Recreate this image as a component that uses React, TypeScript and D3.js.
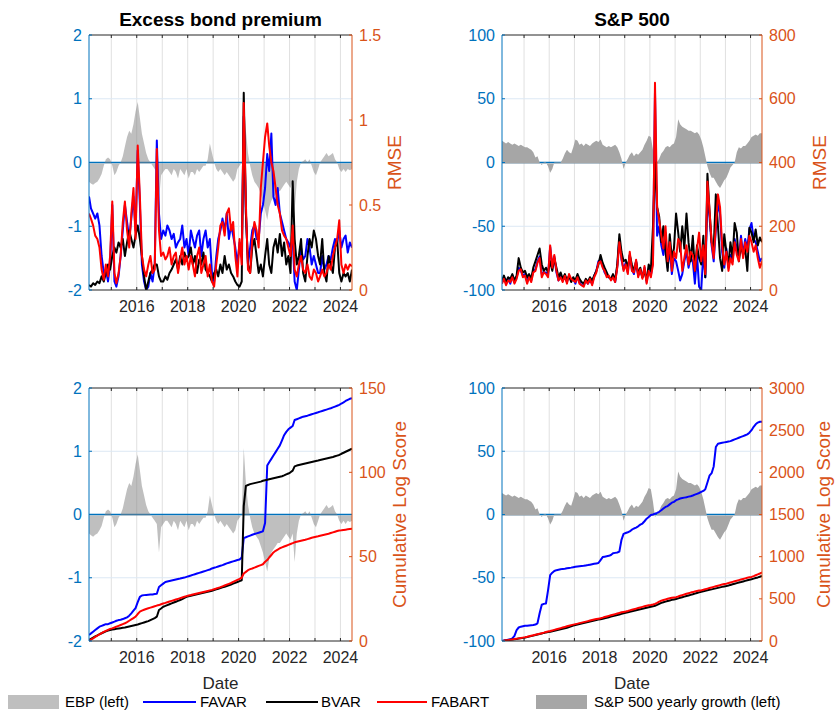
import React from "react";
import * as d3 from "d3";

// Monthly observations, Feb 2014 – Jun 2024 (125 months)
const months: Date[] = d3.range(125).map((i) => new Date(2014, 1 + i, 15));

// Excess bond premium (left axis)
const ebp = [
  -0.3, -0.33, -0.35, -0.32, -0.3, -0.25, -0.18, -0.05, 0.05, 0.08, 0.05,
  -0.05, -0.2, -0.15, -0.05, 0.0, 0.1, 0.25, 0.4, 0.5, 0.45, 0.6, 0.8,
  0.95, 0.7, 0.45, 0.3, 0.15, 0.05, 0.0, -0.05, -0.1, -0.15, -0.6, -0.2,
  -0.15, -0.1, -0.1, -0.15, -0.2, -0.1, -0.15, -0.25, -0.1, -0.15, -0.2, -0.1,
  -0.25, -0.15, -0.15, -0.2, -0.1, -0.15, -0.1, -0.05, -0.05, 0.05, 0.3, 0.15,
  0.0, -0.1, -0.15, -0.1, -0.15, -0.2, -0.15, -0.2, -0.25, -0.3, -0.25, -0.1,
  -0.05, 0.0, 1.05, 0.5, 0.15, -0.05, -0.2, -0.3, -0.35, -0.4, -0.5, -0.6,
  -0.75, -0.9, -0.7, -0.6, -0.55, -0.5, -0.45, -0.45, -0.4, -0.35, -0.3, -0.35,
  -0.4, -0.3, -0.75, -0.3, -0.1, 0.0, 0.02, 0.05, 0.0, 0.05, -0.05, -0.15,
  -0.2, -0.1, 0.0, 0.05, 0.1, 0.15, 0.1, 0.12, 0.15, 0.05, 0.0, -0.1,
  -0.15, -0.1, -0.15, -0.1, -0.12, -0.1,
];

// S&P 500 yearly growth (left axis)
const spGrowth = [
  17, 16, 15, 16, 15, 14, 15, 14, 13, 14, 13,
  12, 12, 11, 10, 8, 4, 5, 0, -2, 0, 0, -3,
  -8, -5, 0, 0, 0, 0, 3, 7, 10, 8, 7, 12,
  18, 17, 14, 15, 13, 15, 14, 13, 15, 16, 17, 16,
  18, 14, 13, 12, 13, 12, 13, 14, 12, 8, 3, -5,
  0, 3, 6, 8, 5, 7, 6, 8, 10, 14, 17, 21,
  20, 10, -2, 0, 3, 7, 9, 12, 13, 12, 14, 15,
  20, 34, 30, 28, 27, 26, 25, 25, 24, 23, 24, 22,
  18, 12, 5, -3, -8, -12, -12, -15, -18, -20, -17, -14,
  -12, -8, -4, -2, 0, 8, 12, 11, 13, 13, 15, 17,
  20, 21, 22, 21, 23, 23,
];

// RMSE – excess bond premium (right axis)
const ebpRmseFavar = [
  0.55, 0.48, 0.45, 0.42, 0.45, 0.38, 0.2, 0.1, 0.12, 0.05, 0.15,
  0.5, 0.05, 0.02, 0.08, 0.2, 0.35, 0.5, 0.4, 0.3, 0.42, 0.55, 0.35,
  0.82, 0.5, 0.15, 0.05, 0.0, 0.02, 0.1, 0.05, 0.15, 0.88, 0.45, 0.3,
  0.35, 0.32, 0.38, 0.35, 0.3, 0.33, 0.25, 0.28, 0.3, 0.38, 0.25, 0.3,
  0.2, 0.35, 0.3, 0.25, 0.32, 0.35, 0.2, 0.3, 0.35, 0.25, 0.3, 0.1,
  0.05, 0.2, 0.3, 0.35, 0.42, 0.35, 0.45, 0.3, 0.38, 0.32, 0.25, 0.15,
  0.28, 0.2, 1.02, 0.45, 0.15, 0.25, 0.35, 0.38, 0.3, 0.3, 0.45, 0.5,
  0.6, 0.8, 0.7, 0.92, 0.55, 0.5, 0.6, 0.45, 0.4, 0.35, 0.3, 0.28,
  0.25, 0.3, 0.05, 0.0, 0.12, 0.25, 0.18, 0.2, 0.3, 0.25, 0.15, 0.2,
  0.15, 0.1, 0.1, 0.2, 0.12, 0.15, 0.2, 0.18, 0.25, 0.3, 0.28, 0.35,
  0.25, 0.3, 0.32, 0.22, 0.28, 0.25,
];
const ebpRmseBvar = [
  0.03, 0.02, 0.04, 0.03, 0.05, 0.04, 0.08, 0.05, 0.1, 0.15, 0.12,
  0.2, 0.25, 0.22, 0.28, 0.25, 0.3, 0.2, 0.28, 0.35, 0.3, 0.25, 0.32,
  0.38, 0.3, 0.2, 0.08, 0.0, 0.05, 0.1, 0.12, 0.15, 0.15, 0.08, 0.05,
  0.05, 0.08, 0.06, 0.1, 0.12, 0.15, 0.18, 0.12, 0.2, 0.15, 0.22, 0.18,
  0.2, 0.25, 0.15, 0.2, 0.1, 0.18, 0.15, 0.22, 0.12, 0.1, 0.08, 0.05,
  0.1, 0.12, 0.08, 0.15, 0.1, 0.2, 0.12, 0.15, 0.1, 0.08, 0.05, 0.03,
  0.02, 0.05, 1.16, 0.45, 0.15, 0.1, 0.25, 0.3, 0.2, 0.1, 0.15, 0.08,
  0.2, 0.3, 0.15, 0.1, 0.25, 0.3, 0.22, 0.33, 0.2, 0.28, 0.15, 0.2,
  0.1, 0.64, 0.3, 0.15, 0.2, 0.3, 0.1, 0.05, 0.2, 0.3, 0.25, 0.35,
  0.3, 0.2, 0.15, 0.3, 0.1, 0.05, 0.2, 0.15, 0.1, 0.25, 0.3, 0.1,
  0.05, 0.1, 0.08, 0.1, 0.05, 0.12,
];
const ebpRmseFabart = [
  0.45, 0.42, 0.38, 0.32, 0.3, 0.25, 0.12, 0.06, 0.15, 0.08, 0.2,
  0.52, 0.1, 0.04, 0.1, 0.2, 0.4, 0.52, 0.35, 0.25, 0.45, 0.6, 0.3,
  0.85, 0.55, 0.2, 0.12, 0.08, 0.15, 0.2, 0.1, 0.12, 0.83, 0.35, 0.2,
  0.22, 0.18, 0.2, 0.25, 0.15, 0.2, 0.22, 0.1, 0.18, 0.25, 0.15, 0.2,
  0.12, 0.2, 0.15, 0.08, 0.2, 0.25, 0.1, 0.15, 0.2, 0.08, 0.15, 0.05,
  0.02, 0.15, 0.25, 0.38, 0.4, 0.32, 0.45, 0.48, 0.35, 0.4, 0.2, 0.08,
  0.3, 0.15, 1.1, 0.5, 0.12, 0.1, 0.3, 0.4, 0.35, 0.25, 0.6, 0.75,
  0.9, 0.98, 0.85, 0.75, 0.7, 0.6, 0.5, 0.45, 0.35, 0.32, 0.3, 0.25,
  0.2, 0.38, 0.12, 0.08, 0.15, 0.2, 0.12, 0.1, 0.15, 0.08, 0.06, 0.12,
  0.1, 0.05, 0.08, 0.12, 0.08, 0.1, 0.15, 0.12, 0.2, 0.25, 0.3, 0.41,
  0.15, 0.1, 0.15, 0.12, 0.15, 0.14,
];

// RMSE – S&P 500 (right axis)
const spRmseFavar = [
  25, 40, 30, 35, 20, 45, 25, 40, 70, 60, 45,
  50, 25, 45, 30, 60, 65, 90, 105, 50, 55, 55, 45,
  135, 75, 105, 55, 30, 45, 30, 40, 25, 45, 30, 35,
  20, 45, 25, 15, 15, 30, 20, 30, 20, 45, 60, 90,
  95, 75, 55, 45, 40, 35, 45, 25, 75, 160, 95, 65,
  85, 55, 110, 65, 50, 90, 45, 60, 40, 70, 25, 65,
  45, 90, 620, 170, 200, 140, 110, 180, 70, 130, 50, 100,
  90, 60, 30, 50, 90, 120, 70, 100, 90, 20, 110, 10,
  0, 120, 40, 290, 230, 140, 90, 190, 270, 240, 120, 70,
  130, 70, 110, 90, 160, 130, 100, 170, 110, 160, 130, 190,
  210, 160, 150, 120, 90, 100,
];
const spRmseBvar = [
  30, 45, 25, 40, 35, 50, 30, 45, 100, 70, 55,
  60, 40, 50, 35, 70, 90, 110, 130, 80, 60, 70, 55,
  90, 60, 100, 70, 40, 55, 35, 50, 30, 45, 25, 40,
  30, 50, 35, 25, 20, 35, 25, 40, 30, 45, 60, 80,
  110, 85, 70, 55, 40, 35, 50, 30, 80, 175, 120, 90,
  95, 70, 110, 80, 60, 90, 50, 70, 40, 60, 30, 80,
  60, 200, 400, 260, 230, 150, 200, 120, 60, 175, 100, 130,
  240, 180, 120, 200, 130, 240, 150, 90, 170, 60, 140, 100,
  80, 170, 40, 365, 250, 150, 130, 300, 200, 100, 60, 175,
  120, 80, 150, 100, 210, 180, 90, 140, 110, 130, 60, 195,
  180, 150, 190, 140, 165, 150,
];
const spRmseFabart = [
  20, 35, 15, 30, 25, 40, 20, 35, 60, 65, 40,
  45, 20, 40, 25, 55, 60, 85, 100, 40, 55, 50, 40,
  140, 70, 110, 60, 30, 40, 25, 45, 20, 50, 35, 30,
  25, 40, 20, 15, 10, 30, 20, 35, 15, 40, 55, 85,
  90, 70, 60, 40, 45, 30, 40, 25, 70, 150, 100, 60,
  80, 50, 120, 60, 55, 95, 40, 65, 35, 75, 20, 60,
  40, 80, 650, 260, 220, 170, 130, 200, 90, 150, 60, 120,
  100, 160, 150, 60, 100, 140, 80, 120, 110, 60, 130, 180,
  90, 140, 50, 340, 250, 150, 100, 200, 300, 260, 140, 80,
  120, 60, 100, 80, 150, 110, 90, 160, 100, 150, 120, 170,
  150, 120, 140, 100, 70, 90,
];

// Cumulative log score – excess bond premium (right axis)
const ebpCumFavar = [
  3.5, 4.5, 5.5, 6.5, 7.5, 8.5, 9, 9.5, 10, 10, 10.5,
  11, 11.5, 12, 12.4, 12.6, 13, 13.5, 14, 15, 16.4, 18, 19.5,
  23, 26.2, 27, 27.2, 27.3, 27.4, 27.5, 27.6, 27.8, 28, 32, 33,
  34, 35, 35.3, 35.6, 35.9, 36.2, 36.5, 36.8, 37, 37.3, 37.6, 38,
  38.4, 38.8, 39.2, 39.6, 40, 40.4, 40.8, 41.2, 41.6, 42, 42.4, 43,
  43.4, 43.8, 44.2, 44.6, 45, 45.5, 46, 46.4, 46.8, 47.2, 47.6, 48,
  48.3, 49.5, 61, 61.5, 62, 62.5, 63, 63.4, 63.8, 64.2, 64.6, 65,
  70, 104, 106, 108, 110, 112, 114, 116, 119, 122, 124, 125.5,
  126.5, 127.5, 131, 131.5, 132, 132.5, 133, 133.3, 133.6, 134, 134.4, 134.8,
  135.2, 135.6, 136, 136.4, 136.8, 137.2, 137.6, 138, 138.5, 139, 139.5, 140,
  140.8, 141.5, 142.3, 143, 143.6, 144,
];
const ebpCumBvar = [
  0.6, 1.3, 2, 2.7, 3.3, 4, 4.6, 5.2, 5.7, 6.2, 6.5,
  6.8, 7, 7.2, 7.4, 7.6, 7.8, 8, 8.3, 8.6, 8.9, 9.2, 9.5,
  9.8, 10.2, 10.6, 11, 11.4, 11.8, 12.4, 13, 13.6, 14.4, 18.4, 19.3,
  20.3, 20.8, 21.3, 21.8, 22.3, 22.8, 23.3, 23.8, 24.3, 24.8, 25.5, 26.2,
  26.5, 26.8, 27.1, 27.4, 27.7, 28, 28.3, 28.6, 28.9, 29.2, 29.5, 29.8,
  30.2, 30.6, 31, 31.4, 31.8, 32.2, 32.6, 33, 33.5, 34, 34.5, 35,
  35.5, 36, 80, 92, 92.5, 93, 93.3, 93.6, 93.9, 94.2, 94.5, 95,
  95.3, 95.6, 95.9, 96.2, 96.5, 96.8, 97.1, 97.4, 97.7, 98.2, 98.8, 99.3,
  100, 101, 103.5, 104, 104.3, 104.6, 104.9, 105.2, 105.5, 105.8, 106.1, 106.4,
  106.7, 107, 107.3, 107.6, 107.9, 108.2, 108.5, 108.8, 109.1, 109.5, 109.9, 110.3,
  111, 111.6, 112.2, 112.8, 113.4, 114,
];
const ebpCumFabart = [
  0, 0.8, 1.6, 2.4, 3.2, 4, 4.7, 5.4, 6, 6.6, 7.2,
  7.5, 8, 8.5, 9, 9.5, 10, 10.5, 11.2, 12, 12.8, 13.6, 14.4,
  16, 17.4, 18, 18.5, 19, 19.4, 19.8, 20.2, 20.6, 21, 21.3, 21.8,
  22.2, 22.6, 23, 23.4, 23.8, 24.2, 24.6, 25, 25.4, 25.8, 26.2, 26.6,
  27, 27.3, 27.6, 27.9, 28.2, 28.5, 28.8, 29.1, 29.4, 29.7, 30, 30.3,
  30.7, 31.1, 31.5, 31.9, 32.4, 32.9, 33.4, 33.9, 34.4, 35, 35.6, 36.2,
  36.8, 37.5, 40, 41, 42, 42.6, 43, 43.5, 44, 44.5, 45, 45.5,
  47, 48, 49.5, 51, 52.5, 53.5, 54.2, 55, 55.5, 56, 56.5, 57,
  57.5, 58, 58.5, 58.8, 59.1, 59.4, 59.7, 60, 60.4, 60.8, 61.2, 61.5,
  61.8, 62.1, 62.4, 62.7, 63, 63.3, 63.6, 64, 64.4, 64.8, 65.2, 65.5,
  65.6, 65.8, 66, 66.2, 66.4, 66.5,
];

// Cumulative log score – S&P 500 (right axis)
const spCumFavar = [
  0, 5, 10, 15, 20, 30, 60, 130, 160, 170, 175,
  180, 182, 185, 188, 190, 195, 210, 330, 430, 440, 445, 600,
  780, 810, 830, 840, 845, 850, 855, 858, 862, 866, 870, 875,
  880, 883, 886, 889, 892, 896, 900, 905, 910, 915, 920, 925,
  960, 995, 1000, 1005, 1010, 1020, 1040, 1045, 1050, 1060, 1200, 1270,
  1280, 1290, 1300, 1320, 1334, 1345, 1360, 1380, 1393, 1420, 1450, 1470,
  1495, 1500, 1510, 1520, 1532, 1550, 1570, 1590, 1600, 1620, 1640, 1650,
  1670, 1680, 1690, 1695, 1700, 1705, 1712, 1717, 1725, 1735, 1745, 1755,
  1768, 1780, 1800, 1880, 1960, 1990, 2070, 2300, 2340, 2345, 2350, 2355,
  2360, 2365, 2370, 2380, 2390, 2400, 2410, 2420, 2430, 2440, 2450, 2470,
  2500, 2540, 2570, 2590, 2600, 2600,
];
const spCumBvar = [
  0, 3, 7, 10, 14, 17, 21, 25, 29, 33, 37,
  40, 46, 52, 58, 64, 71, 77, 83, 89, 96, 102, 106,
  110, 116, 122, 128, 134, 140, 146, 152, 158, 166, 174, 182,
  190, 196, 202, 208, 214, 220, 226, 232, 238, 244, 250, 254,
  257, 263, 270, 276, 282, 289, 295, 301, 308, 315, 322, 329,
  335, 341, 347, 352, 358, 364, 370, 376, 382, 388, 394, 400,
  405, 411, 418, 428, 440, 452, 460, 467, 474, 481, 488, 493,
  497, 505, 512, 519, 526, 533, 540, 547, 554, 562, 570, 577,
  584, 590, 596, 601, 607, 612, 618, 624, 630, 636, 642, 647,
  652, 658, 665, 672, 679, 686, 693, 699, 706, 713, 720, 727,
  733, 740, 747, 754, 762, 770,
];
const spCumFabart = [
  0, 4, 8, 11, 15, 19, 23, 27, 31, 35, 40,
  45, 51, 57, 63, 69, 75, 81, 87, 93, 99, 106, 112,
  118, 125, 132, 139, 146, 153, 160, 167, 174, 181, 188, 194,
  200, 206, 212, 218, 224, 230, 236, 242, 248, 254, 260, 265,
  270, 277, 284, 291, 298, 305, 312, 319, 326, 333, 340, 345,
  350, 356, 363, 370, 377, 384, 391, 398, 405, 412, 419, 423,
  426, 432, 440, 452, 466, 478, 486, 493, 500, 507, 513, 517,
  520, 528, 536, 544, 552, 560, 567, 574, 580, 587, 594, 598,
  600, 607, 614, 621, 628, 635, 642, 649, 656, 663, 670, 675,
  680, 687, 694, 701, 708, 715, 722, 729, 736, 743, 750, 755,
  760, 770, 780, 790, 800, 813,
];

const ebpLeftTicks = [-2, -1, 0, 1, 2];
const spLeftTicks = [-100, -50, 0, 50, 100];
const ebpRmseTicks = [0, 0.5, 1, 1.5];
const spRmseTicks = [0, 200, 400, 600, 800];
const ebpCumTicks = [0, 50, 100, 150];
const spCumTicks = [0, 500, 1000, 1500, 2000, 2500, 3000];
const gridYears = d3.range(2015, 2025);
const labelYears = [2016, 2018, 2020, 2022, 2024];

const legendItems = [
  { kind: "patch", label: "EBP (left)", color: "#BFBFBF" },
  { kind: "line", label: "FAVAR", color: "#0000FF" },
  { kind: "line", label: "BVAR", color: "#000000" },
  { kind: "line", label: "FABART", color: "#FF0000" },
  { kind: "patch", label: "S&P 500 yearly growth (left)", color: "#A6A6A6" },
];

const FONT = "'Liberation Sans', Arial, Helvetica, sans-serif";
const AX_BLUE = "#0072BD";
const AX_ORANGE = "#D95319";
const FRAME = "#262626";

type PanelProps = {
  id: string;
  x0: number; x1: number; y0: number; y1: number;
  area: number[]; areaColor: string; areaOpacity: number;
  leftDomain: [number, number]; leftTicks: number[];
  rightDomain: [number, number]; rightTicks: number[];
  lines: { values: number[]; color: string }[];
  title?: string; rightLabel: string; rightLabelX: number;
  showDate?: boolean;
};

function Panel(p: PanelProps) {
  const x = d3.scaleTime().domain([months[0], months[months.length - 1]]).range([p.x0, p.x1]);
  const yl = d3.scaleLinear().domain(p.leftDomain).range([p.y1, p.y0]);
  const yr = d3.scaleLinear().domain(p.rightDomain).range([p.y1, p.y0]);
  const base = yl(0);
  const areaGen = d3.area<number>()
    .x((_, i) => x(months[i]))
    .y0(base + 1)
    .y1((d) => yl(d));
  const lineGen = d3.line<number>().x((_, i) => x(months[i])).y((d) => yr(d));
  const cx = (p.x0 + p.x1) / 2;
  const cy = (p.y0 + p.y1) / 2;
  const tick = 3;
  return (
    <g>
      <defs>
        <clipPath id={p.id}>
          <rect x={p.x0} y={p.y0} width={p.x1 - p.x0} height={p.y1 - p.y0} />
        </clipPath>
      </defs>
      <rect x={p.x0} y={p.y0} width={p.x1 - p.x0} height={p.y1 - p.y0} fill="#fff" />
      {gridYears.map((yy) => {
        const xx = x(new Date(yy, 0, 1));
        return <line key={"g" + yy} x1={xx} x2={xx} y1={p.y0} y2={p.y1} stroke="#E0E0E0" strokeWidth={1} />;
      })}
      {p.leftTicks.filter((t) => t !== 0 && t !== p.leftDomain[0] && t !== p.leftDomain[1]).map((t) => (
        <line key={"h" + t} x1={p.x0} x2={p.x1} y1={yl(t)} y2={yl(t)} stroke="#DCE8F4" strokeWidth={1} />
      ))}
      <line x1={p.x0} x2={p.x1} y1={base} y2={base} stroke={AX_BLUE} strokeWidth={1.5} />
      <g clipPath={`url(#${p.id})`}>
        <path d={areaGen(p.area) || ""} fill={p.areaColor} fillOpacity={p.areaOpacity} stroke="none" />
        {p.lines.map((s, k) => (
          <path key={k} d={lineGen(s.values) || ""} fill="none" stroke={s.color} strokeWidth={2} strokeLinejoin="round" />
        ))}
      </g>
      <line x1={p.x0} x2={p.x1} y1={p.y0} y2={p.y0} stroke={FRAME} strokeWidth={1} />
      <line x1={p.x0} x2={p.x1} y1={p.y1} y2={p.y1} stroke={FRAME} strokeWidth={1} />
      <line x1={p.x0} x2={p.x0} y1={p.y0} y2={p.y1} stroke={AX_BLUE} strokeWidth={1} />
      <line x1={p.x1} x2={p.x1} y1={p.y0} y2={p.y1} stroke={AX_ORANGE} strokeWidth={1} />
      {gridYears.map((yy) => {
        const xx = x(new Date(yy, 0, 1));
        return (
          <g key={"t" + yy}>
            <line x1={xx} x2={xx} y1={p.y1} y2={p.y1 - tick} stroke={FRAME} />
            <line x1={xx} x2={xx} y1={p.y0} y2={p.y0 + tick} stroke={FRAME} />
          </g>
        );
      })}
      {labelYears.map((yy) => (
        <text key={"xl" + yy} x={x(new Date(yy, 0, 1))} y={p.y1 + 22} textAnchor="middle"
          fontSize={16} fontFamily={FONT} fill={FRAME}>{yy}</text>
      ))}
      {p.leftTicks.map((t) => (
        <g key={"lt" + t}>
          <line x1={p.x0} x2={p.x0 + tick} y1={yl(t)} y2={yl(t)} stroke={AX_BLUE} />
          <text x={p.x0 - 7} y={yl(t)} dy="0.35em" textAnchor="end" fontSize={16} fontFamily={FONT} fill={AX_BLUE}>{t}</text>
        </g>
      ))}
      {p.rightTicks.map((t) => (
        <g key={"rt" + t}>
          <line x1={p.x1} x2={p.x1 - tick} y1={yr(t)} y2={yr(t)} stroke={AX_ORANGE} />
          <text x={p.x1 + 7} y={yr(t)} dy="0.35em" textAnchor="start" fontSize={16} fontFamily={FONT} fill={AX_ORANGE}>{t}</text>
        </g>
      ))}
      {p.title && (
        <text x={cx} y={p.y0 - 9} textAnchor="middle" fontSize={19} fontWeight="bold" fontFamily={FONT} fill="#000">{p.title}</text>
      )}
      <text transform={`translate(${p.rightLabelX},${cy}) rotate(-90)`} textAnchor="middle"
        fontSize={19} fontFamily={FONT} fill={AX_ORANGE}>{p.rightLabel}</text>
      {p.showDate && (
        <text x={cx} y={p.y1 + 48} textAnchor="middle" fontSize={17} fontFamily={FONT} fill={FRAME}>Date</text>
      )}
    </g>
  );
}

function Legend() {
  const positions = [
    { s: 8, e: 59, t: 65 },
    { s: 143, e: 196, t: 200 },
    { s: 266, e: 318, t: 321 },
    { s: 377, e: 427, t: 431 },
    { s: 536, e: 587, t: 594 },
  ];
  const cy = 702;
  return (
    <g>
      {legendItems.map((it, i) => {
        const pos = positions[i];
        return (
          <g key={it.label}>
            {it.kind === "patch" ? (
              <rect x={pos.s} y={cy - 7} width={pos.e - pos.s} height={14} fill={it.color} />
            ) : (
              <line x1={pos.s} x2={pos.e} y1={cy} y2={cy} stroke={it.color} strokeWidth={2} />
            )}
            <text x={pos.t} y={cy} dy="0.35em" fontSize={15} fontFamily={FONT} fill="#000">{it.label}</text>
          </g>
        );
      })}
    </g>
  );
}

export default function App() {
  const L = { x0: 89, x1: 352 };
  const R = { x0: 502, x1: 762 };
  const T = { y0: 35, y1: 290 };
  const B = { y0: 388, y1: 641 };
  return (
    <svg width={839} height={714} style={{ position: "absolute", left: 0, top: 0, background: "#fff" }}>
      <rect width={839} height={714} fill="#fff" />
      <Panel id="c1" {...L} {...T} area={ebp} areaColor="#808080" areaOpacity={0.5}
        leftDomain={[-2, 2]} leftTicks={ebpLeftTicks} rightDomain={[0, 1.5]} rightTicks={ebpRmseTicks}
        lines={[{ values: ebpRmseFavar, color: "#0000FF" }, { values: ebpRmseBvar, color: "#000000" }, { values: ebpRmseFabart, color: "#FF0000" }]}
        title="Excess bond premium" rightLabel="RMSE" rightLabelX={401} />
      <Panel id="c2" {...R} {...T} area={spGrowth} areaColor="#A6A6A6" areaOpacity={1}
        leftDomain={[-100, 100]} leftTicks={spLeftTicks} rightDomain={[0, 800]} rightTicks={spRmseTicks}
        lines={[{ values: spRmseFavar, color: "#0000FF" }, { values: spRmseBvar, color: "#000000" }, { values: spRmseFabart, color: "#FF0000" }]}
        title="S&P 500" rightLabel="RMSE" rightLabelX={826} />
      <Panel id="c3" {...L} {...B} area={ebp} areaColor="#808080" areaOpacity={0.5}
        leftDomain={[-2, 2]} leftTicks={ebpLeftTicks} rightDomain={[0, 150]} rightTicks={ebpCumTicks}
        lines={[{ values: ebpCumFavar, color: "#0000FF" }, { values: ebpCumBvar, color: "#000000" }, { values: ebpCumFabart, color: "#FF0000" }]}
        rightLabel="Cumulative Log Score" rightLabelX={406} showDate />
      <Panel id="c4" {...R} {...B} area={spGrowth} areaColor="#A6A6A6" areaOpacity={1}
        leftDomain={[-100, 100]} leftTicks={spLeftTicks} rightDomain={[0, 3000]} rightTicks={spCumTicks}
        lines={[{ values: spCumFavar, color: "#0000FF" }, { values: spCumBvar, color: "#000000" }, { values: spCumFabart, color: "#FF0000" }]}
        rightLabel="Cumulative Log Score" rightLabelX={830} showDate />
      <Legend />
    </svg>
  );
}
